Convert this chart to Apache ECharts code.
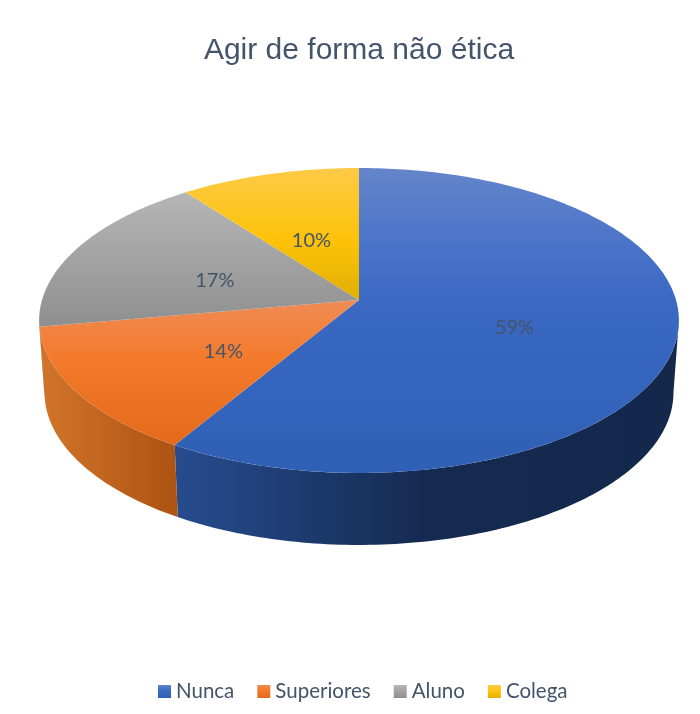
<!DOCTYPE html>
<html>
<head>
<meta charset="utf-8">
<style>
  html, body { margin: 0; background: #fff; }
  #chart { width: 700px; height: 714px; }
</style>
<script src="https://cdn.jsdelivr.net/npm/echarts@6/dist/echarts.min.js"></script>
</head>
<body>
<div id="chart"></div>
<script>
const categories = ['Nunca', 'Superiores', 'Aluno', 'Colega'];
const values = [58.6, 13.6, 17.45, 10.35];

// top face gradient stops (top to bottom), side wall gradient (left to right)
const topColors = [
  [[0, '#6485cb'], [0.25, '#4a74c9'], [0.45, '#3a68c2'], [1, '#2f60b5']],
  [[0, '#ef8c55'], [0.4, '#f37a2b'], [1, '#e26a1a']],
  [[0, '#b6b6b6'], [1, '#8f8f8f']],
  [[0, '#fdca47'], [0.55, '#fdc208'], [1, '#e0af00']]
];
const sideColors = [
  [[0, '#264c8f'], [0.5, '#152a50'], [1, '#14284c']],
  [[0, '#d2752b'], [1, '#ad5312']],
  [[0, '#888888'], [1, '#666666']],
  [[0, '#c29200'], [1, '#a07800']]
];

// flattened disc: circle seen in perspective
const cx = 359, cy = 300, a = 317, b = 149.7, k = 0.1344;
const depth = 72, bottomShrink = 0.983;
const sideFrom = 97.7, sideTo = 262.3;
const total = values.reduce((s, v) => s + v, 0);

function project(deg, r) {
  const t = deg * Math.PI / 180;
  const u = Math.sin(t) * r, v = Math.cos(t) * r;
  const w = 1 + k * v;
  return [a * u / w, -b * v / w];
}
function rim(deg, lower) {
  const p = project(deg, 1);
  return lower
    ? [cx + p[0] * bottomShrink, cy + p[1] + depth]
    : [cx + p[0], cy + p[1]];
}
function arc(from, to, lower) {
  const pts = [];
  const n = Math.max(2, Math.ceil(Math.abs(to - from)));
  for (let i = 0; i <= n; i++) pts.push(rim(from + (to - from) * i / n, lower));
  return pts;
}
function gradient(horizontal, stops) {
  return new echarts.graphic.LinearGradient(0, 0, horizontal ? 1 : 0, horizontal ? 0 : 1,
    stops.map(s => ({ offset: s[0], color: s[1] })));
}

function sliceRenderer(idx) {
  return function (params, api) {
    const before = values.slice(0, idx).reduce((s, v) => s + v, 0);
    const start = before / total * 360;
    const end = (before + api.value(0)) / total * 360;
    const children = [];

    const sa = Math.max(start, sideFrom), sb = Math.min(end, sideTo);
    if (sb > sa) {
      children.push({
        type: 'polygon',
        shape: { points: arc(sa, sb, false).concat(arc(sb, sa, true)) },
        style: { fill: gradient(true, sideColors[idx]) }
      });
    }

    children.push({
      type: 'polygon',
      shape: { points: [[cx, cy]].concat(arc(start, end, false)) },
      style: { fill: gradient(false, topColors[idx]) }
    });

    const mid = project((start + end) / 2, 0.5);
    children.push({
      type: 'text',
      style: {
        x: cx + mid[0],
        y: cy + mid[1] + 7,
        text: Math.round(api.value(0)) + '%',
        fill: '#44546a',
        font: '20px Lato',
        align: 'center',
        verticalAlign: 'middle'
      }
    });
    return { type: 'group', children };
  };
}

const chart = echarts.init(document.getElementById('chart'));
chart.setOption({
  animation: false,
  title: {
    text: 'Agir de forma não ética',
    left: 359,
    top: 36,
    padding: 0,
    textAlign: 'center',
    textStyle: { fontFamily: 'Liberation Sans', fontSize: 30, fontWeight: 'normal', color: '#44546a' }
  },
  legend: {
    left: 158,
    top: 681,
    padding: 0,
    icon: 'rect',
    itemWidth: 13,
    itemHeight: 13,
    itemGap: 23,
    selectedMode: false,
    data: categories,
    textStyle: { fontFamily: 'Lato', fontSize: 20.5, color: '#44546a', padding: [11, 0, 0, 0] }
  },
  series: categories.map((name, i) => ({
    type: 'custom',
    name: name,
    coordinateSystem: 'none',
    silent: true,
    itemStyle: { color: gradient(false, topColors[i]) },
    data: [[values[i]]],
    renderItem: sliceRenderer(i)
  }))
});
</script>
</body>
</html>
